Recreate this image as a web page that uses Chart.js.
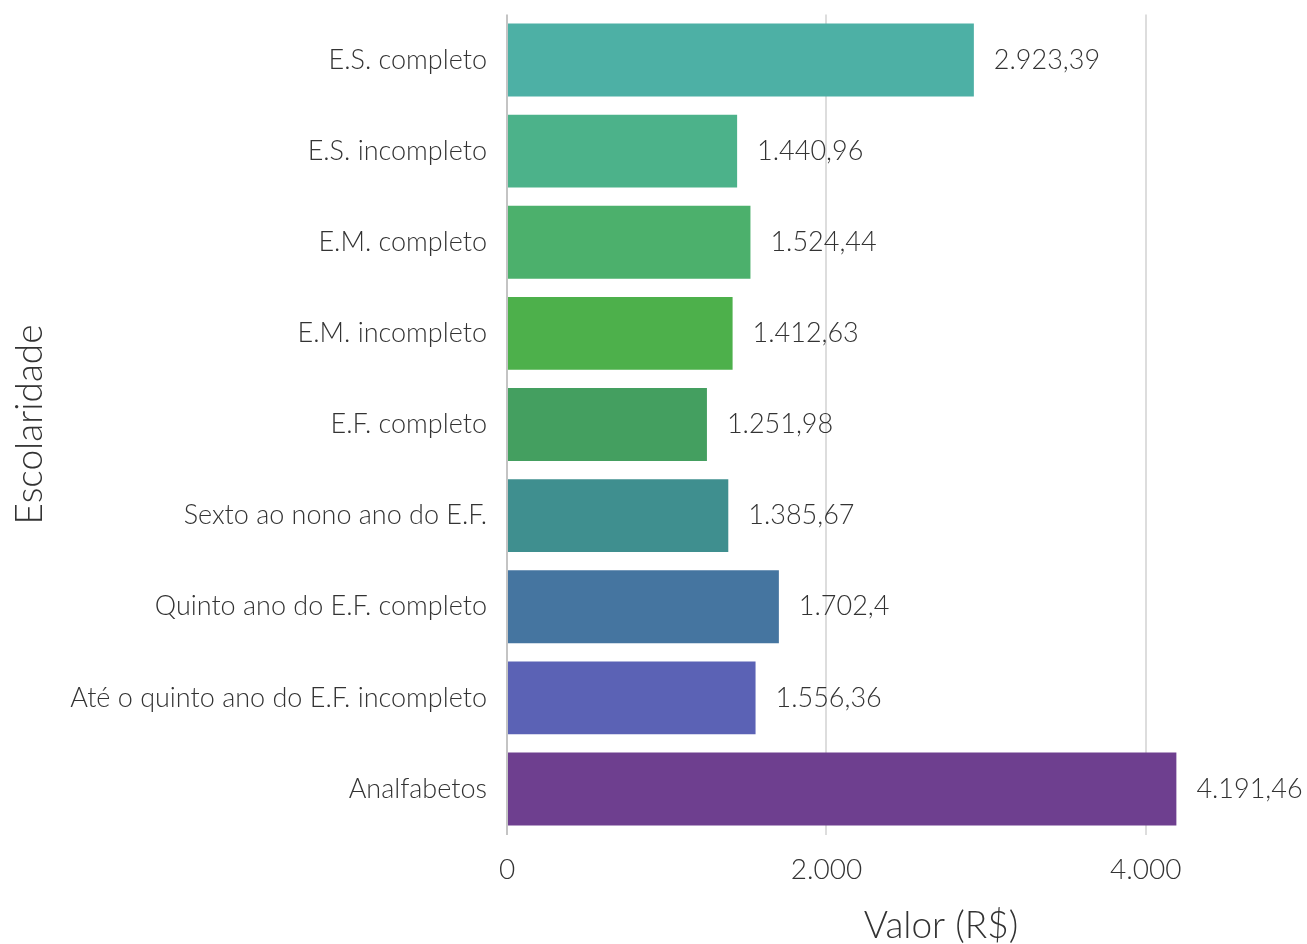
<!DOCTYPE html>
<html>
<head>
<meta charset="utf-8">
<script src="https://cdn.jsdelivr.net/npm/chart.js@4"></script>
<style>
  html, body { margin: 0; padding: 0; background: #fff; }
  #wrap { width: 1307px; height: 944px; }
</style>
</head>
<body>
<div id="wrap"><canvas id="chart"></canvas></div>
<script>
// Chart data
const categories = [
  "E.S. completo",
  "E.S. incompleto",
  "E.M. completo",
  "E.M. incompleto",
  "E.F. completo",
  "Sexto ao nono ano do E.F.",
  "Quinto ano do E.F. completo",
  "Até o quinto ano do E.F. incompleto",
  "Analfabetos"
];
const values = [2923.39, 1440.96, 1524.44, 1412.63, 1251.98, 1385.67, 1702.4, 1556.36, 4191.46];
const valueLabels = ["2.923,39", "1.440,96", "1.524,44", "1.412,63", "1.251,98", "1.385,67", "1.702,4", "1.556,36", "4.191,46"];
const barColors = ["#4DB0A5", "#4CB28A", "#4CB06C", "#4DB04B", "#449F60", "#3F8F8F", "#4575A0", "#5B62B5", "#6E3F8F"];
const tickValues = [0, 2000, 4000];
const tickLabels = ["0", "2.000", "4.000"];

const FONT = "Lato";
const TEXT = "#333333";

// Value labels to the right of each bar
const valueLabelPlugin = {
  id: "valueLabels",
  afterDatasetsDraw(chart) {
    const ctx = chart.ctx;
    const meta = chart.getDatasetMeta(0);
    ctx.save();
    ctx.font = "300 27px " + FONT;
    ctx.fillStyle = TEXT;
    ctx.textAlign = "left";
    ctx.textBaseline = "middle";
    meta.data.forEach((bar, i) => {
      ctx.fillText(valueLabels[i], bar.x + 20, bar.y);
    });
    ctx.restore();
  }
};

// Axis titles
const axisTitlePlugin = {
  id: "axisTitles",
  afterDraw(chart) {
    const ctx = chart.ctx;
    const area = chart.chartArea;
    ctx.save();
    ctx.fillStyle = TEXT;
    ctx.font = "300 37px " + FONT;
    ctx.textAlign = "center";
    ctx.textBaseline = "middle";
    ctx.fillText("Valor (R$)", 941, 926);
    ctx.translate(30, (area.top + area.bottom) / 2);
    ctx.rotate(-Math.PI / 2);
    ctx.fillText("Escolaridade", 0, 0);
    ctx.restore();
  }
};

new Chart(document.getElementById("chart"), {
  type: "bar",
  data: {
    labels: categories,
    datasets: [{
      data: values,
      backgroundColor: barColors,
      borderWidth: 0,
      categoryPercentage: 0.8,
      barPercentage: 1.0
    }]
  },
  options: {
    indexAxis: "y",
    responsive: true,
    maintainAspectRatio: false,
    animation: false,
    layout: { padding: { top: 14.5, right: 1.5, bottom: 0, left: 0 } },
    plugins: {
      legend: { display: false },
      tooltip: { enabled: false }
    },
    scales: {
      x: {
        min: 0,
        max: 5000,
        afterBuildTicks(scale) {
          scale.ticks = tickValues.map((v) => ({ value: v }));
        },
        afterFit(scale) {
          scale.height = 109.5;
          scale.paddingLeft = 0;
          scale.paddingRight = 0;
        },
        ticks: {
          font: { family: FONT, size: 28, weight: 300 },
          color: TEXT,
          padding: 19,
          maxRotation: 0,
          callback: (value) => tickLabels[tickValues.indexOf(value)]
        },
        grid: {
          color: (c) => (c.tick && c.tick.value === 0 ? "#c4c4c4" : "#dddddd"),
          lineWidth: 2,
          drawTicks: false
        },
        border: { display: false }
      },
      y: {
        afterFit(scale) {
          scale.width = 507;
          scale.paddingTop = 0;
          scale.paddingBottom = 0;
        },
        ticks: {
          font: { family: FONT, size: 27, weight: 300 },
          color: TEXT,
          padding: 20
        },
        grid: { display: false, drawTicks: false },
        border: { display: false }
      }
    }
  },
  plugins: [valueLabelPlugin, axisTitlePlugin]
});
</script>
</body>
</html>
